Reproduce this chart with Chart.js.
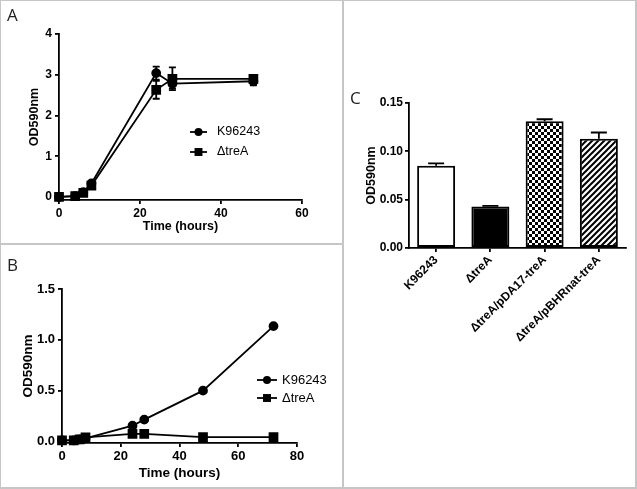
<!DOCTYPE html>
<html lang="en">
<head>
<meta charset="UTF-8">
<title>OD590 growth curves and biofilm</title>
<script src="https://cdn.jsdelivr.net/npm/chart.js"></script>
<style>
  html, body { margin: 0; padding: 0; background: #fff; }
  #fig { position: relative; width: 637px; height: 489px; overflow: hidden; }
  .panel { position: absolute; }
  #pA { left: 0; top: 0; }
  #pB { left: 0; top: 243px; }
  #pC { left: 343px; top: 0; }
  .line { position: absolute; background: #c6c6c6; }
  .tag { position: absolute; font: 17px 'Open Sans', sans-serif; color: #222; line-height: 1; }
</style>
</head>
<body>
<div id="fig">
  <div class="panel" id="pA"><canvas id="chartA" width="343" height="243"></canvas></div>
  <div class="panel" id="pB"><canvas id="chartB" width="343" height="246"></canvas></div>
  <div class="panel" id="pC"><canvas id="chartC" width="294" height="489"></canvas></div>

  <div class="line" style="left:0;top:0;width:637px;height:1px"></div>
  <div class="line" style="left:0;top:0;width:1px;height:489px"></div>
  <div class="line" style="left:635px;top:0;width:2px;height:489px"></div>
  <div class="line" style="left:0;top:487px;width:637px;height:2px"></div>
  <div class="line" style="left:342px;top:0;width:2px;height:489px"></div>
  <div class="line" style="left:0;top:243px;width:342px;height:2px"></div>

  <div class="tag" style="left:7px;top:6px">A</div>
  <div class="tag" style="left:7px;top:256px">B</div>
  <div class="tag" style="left:350px;top:89px">C</div>
</div>

<script>
  // Panel A - growth, with error bars
  const timeA = [0, 4, 6, 8, 24, 28, 48];
  const wtA = [0, 0.02, 0.12, 0.33, 3.04, 2.78, 2.84];
  const wtErrA = [0, 0, 0.02, 0.04, 0.16, 0.12, 0.1];
  const treA = [0, 0.02, 0.1, 0.28, 2.63, 2.9, 2.9];
  const treErrA = [0, 0, 0.02, 0.04, 0.22, 0.28, 0.06];
  const xTicksA = [0, 20, 40, 60];
  const yTicksA = [0, 1, 2, 3, 4];

  // Panel B - growth
  const timeB = [0, 4, 6, 8, 24, 28, 48, 72];
  const wtB = [0.01, 0.01, 0.02, 0.03, 0.155, 0.215, 0.5, 1.135];
  const treB = [0.01, 0.01, 0.02, 0.04, 0.075, 0.075, 0.043, 0.043];
  const xTicksB = [0, 20, 40, 60, 80];
  const yTicksB = [0, 0.5, 1.0, 1.5];

  // Panel C - bars
  const strains = ['K96243', '\u0394treA', '\u0394treA/pDA17-treA', '\u0394treA/pBHRnat-treA'];
  const odC = [0.085, 0.043, 0.131, 0.113];
  const errC = [0.0025, 0.0005, 0.0022, 0.0065];
  const yTicksC = [0, 0.05, 0.10, 0.15];

  Chart.defaults.font.family = "'Liberation Sans', Arial, sans-serif";
  Chart.defaults.font.weight = 'bold';
  Chart.defaults.font.size = 12;
  Chart.defaults.color = '#000';

  function toPoints(xs, ys) {
    return xs.map((x, i) => ({ x: x, y: ys[i] }));
  }

  // error bars through the chart scales
  const errorBars = {
    id: 'errorBars',
    beforeDatasetsDraw(chart, args, opts) {
      const ctx = chart.ctx;
      const y = chart.scales.y;
      ctx.save();
      ctx.strokeStyle = '#000';
      ctx.lineWidth = opts.width || 1.5;
      chart.data.datasets.forEach((ds, i) => {
        if (!ds.errors) return;
        const meta = chart.getDatasetMeta(i);
        meta.data.forEach((el, j) => {
          const err = ds.errors[j];
          if (!err) return;
          const v = typeof ds.data[j] === 'object' ? ds.data[j].y : ds.data[j];
          const top = y.getPixelForValue(v + err);
          const bot = opts.upOnly ? y.getPixelForValue(v) : y.getPixelForValue(v - err);
          const c = opts.cap / 2;
          ctx.beginPath();
          ctx.moveTo(el.x, top); ctx.lineTo(el.x, bot);
          ctx.moveTo(el.x - c, top); ctx.lineTo(el.x + c, top);
          if (!opts.upOnly) { ctx.moveTo(el.x - c, bot); ctx.lineTo(el.x + c, bot); }
          ctx.stroke();
        });
      });
      ctx.restore();
    }
  };

  // small line+marker legend placed inside the panel
  const lineLegend = {
    id: 'lineLegend',
    afterDraw(chart, args, opts) {
      if (!opts.x) return;
      const ctx = chart.ctx;
      ctx.save();
      chart.data.datasets.forEach((ds, i) => {
        const yy = opts.y + i * opts.gap;
        const mx = opts.x + opts.len / 2;
        ctx.strokeStyle = '#000';
        ctx.fillStyle = '#000';
        ctx.lineWidth = 1.8;
        ctx.beginPath();
        ctx.moveTo(opts.x, yy); ctx.lineTo(opts.x + opts.len, yy);
        ctx.stroke();
        if (ds.pointStyle === 'rect') {
          const s = ds.pointRadius * Math.SQRT1_2;
          ctx.fillRect(mx - s, yy - s, 2 * s, 2 * s);
        } else {
          ctx.beginPath();
          ctx.arc(mx, yy, ds.pointRadius, 0, Math.PI * 2);
          ctx.fill();
        }
        ctx.font = opts.font;
        ctx.textBaseline = 'middle';
        ctx.fillText(ds.label, opts.textX, yy);
      });
      ctx.restore();
    }
  };

  function lineChart(id, times, wt, tre, wtErr, treErr, c) {
    const base = {
      showLine: true,
      borderColor: '#000',
      backgroundColor: '#000',
      borderWidth: 1.8,
      clip: false
    };
    return new Chart(document.getElementById(id), {
      type: 'scatter',
      data: {
        datasets: [
          Object.assign({ label: 'K96243', data: toPoints(times, wt), errors: wtErr,
            pointStyle: 'circle', pointRadius: 4 }, base),
          Object.assign({ label: '\u0394treA', data: toPoints(times, tre), errors: treErr,
            pointStyle: 'rect', pointRadius: 5.6 }, base)
        ]
      },
      options: {
        responsive: false,
        animation: false,
        layout: { padding: { left: 0, top: c.top, right: c.right, bottom: 0 } },
        plugins: {
          legend: { display: false },
          tooltip: { enabled: false },
          errorBars: { cap: 7, upOnly: false, width: 1.8 },
          lineLegend: c.legend
        },
        scales: {
          x: {
            type: 'linear', min: 0, max: c.xMax,
            afterFit: s => { s.height = c.xh; },
            afterBuildTicks: s => { s.ticks = c.xTicks.map(v => ({ value: v })); },
            border: { display: true, color: '#000', width: 1.8 },
            grid: { drawOnChartArea: false, drawTicks: true, tickLength: 4, color: '#000', lineWidth: 1.8 },
            ticks: { padding: 2, font: { size: c.fs }, callback: v => String(v) },
            title: { display: true, text: 'Time (hours)', font: { size: c.fs + 0.5 }, padding: { top: 0, bottom: c.xTitlePad } }
          },
          y: {
            min: c.yMin, max: c.yMax,
            afterFit: s => { s.width = c.yw; },
            afterBuildTicks: s => { s.ticks = c.yTicks.map(v => ({ value: v })); },
            border: { display: true, color: '#000', width: 1.8 },
            grid: { drawOnChartArea: false, drawTicks: true, tickLength: 4, color: '#000', lineWidth: 1.8 },
            ticks: { padding: 3, font: { size: c.fs }, callback: c.fmt },
            title: { display: true, text: 'OD590nm', font: { size: c.fs + 0.5 }, padding: { top: c.yTitlePad, bottom: 0 } }
          }
        }
      },
      plugins: [errorBars, lineLegend]
    });
  }

  lineChart('chartA', timeA, wtA, treA, wtErrA, treErrA, {
    top: 34, right: 41, xh: 43, yw: 59, xMax: 60, yMin: -0.075, yMax: 4,
    xTicks: xTicksA, yTicks: yTicksA, fmt: v => String(v), fs: 12,
    xTitlePad: 9, yTitlePad: 27,
    legend: { x: 190, len: 17, textX: 217, y: 132, gap: 20, font: "12.5px 'Liberation Sans', Arial, sans-serif" }
  });

  lineChart('chartB', timeB, wtB, treB, null, null, {
    top: 46, right: 46, xh: 46, yw: 62, xMax: 80, yMin: -0.015, yMax: 1.5,
    xTicks: xTicksB, yTicks: yTicksB, fmt: v => v.toFixed(1), fs: 13,
    xTitlePad: 8, yTitlePad: 20,
    legend: { x: 257, len: 20, textX: 282, y: 137, gap: 18, font: "13px 'Liberation Sans', Arial, sans-serif" }
  });

  // fill patterns for panel C
  function checkerPattern(ctx) {
    const t = document.createElement('canvas');
    t.width = 6; t.height = 6;
    const g = t.getContext('2d');
    g.fillStyle = '#fff'; g.fillRect(0, 0, 6, 6);
    g.fillStyle = '#000'; g.fillRect(0, 0, 3, 3); g.fillRect(3, 3, 3, 3);
    return ctx.createPattern(t, 'repeat');
  }
  function stripePattern(ctx) {
    const n = 6;
    const t = document.createElement('canvas');
    t.width = n; t.height = n;
    const g = t.getContext('2d');
    g.fillStyle = '#fff'; g.fillRect(0, 0, n, n);
    g.strokeStyle = '#000'; g.lineWidth = 2;
    g.beginPath();
    g.moveTo(0, n); g.lineTo(n, 0);
    g.moveTo(-1, 1); g.lineTo(1, -1);
    g.moveTo(n - 1, n + 1); g.lineTo(n + 1, n - 1);
    g.stroke();
    return ctx.createPattern(t, 'repeat');
  }

  const ctxC = document.getElementById('chartC').getContext('2d');
  const fillsC = ['#fff', '#000', checkerPattern(ctxC), stripePattern(ctxC)];

  new Chart(ctxC, {
    type: 'bar',
    data: {
      labels: strains,
      datasets: [{
        data: odC,
        errors: errC,
        backgroundColor: fillsC,
        borderColor: '#000',
        borderWidth: 2,
        borderSkipped: false,
        barPercentage: 0.7,
        categoryPercentage: 1
      }]
    },
    options: {
      responsive: false,
      animation: false,
      layout: { padding: { left: 0, top: 103, right: 11, bottom: 0 } },
      plugins: {
        legend: { display: false },
        tooltip: { enabled: false },
        errorBars: { cap: 16, upOnly: true, width: 1.8 }
      },
      scales: {
        x: {
          afterFit: s => { s.height = 241; },
          border: { display: true, color: '#000', width: 1.8 },
          grid: { offset: false, drawOnChartArea: false, drawTicks: true, tickLength: 4, color: '#000', lineWidth: 1.8 },
          ticks: { minRotation: 45, maxRotation: 45, padding: 1, font: { size: 12 } }
        },
        y: {
          min: 0, max: 0.15,
          afterFit: s => { s.width = 66; },
          afterBuildTicks: s => { s.ticks = yTicksC.map(v => ({ value: v })); },
          border: { display: true, color: '#000', width: 1.8 },
          grid: { drawOnChartArea: false, drawTicks: true, tickLength: 4, color: '#000', lineWidth: 1.8 },
          ticks: { padding: 2, font: { size: 12 }, callback: v => v.toFixed(2) },
          title: { display: true, text: 'OD590nm', font: { size: 12.5 }, padding: { top: 21, bottom: 0 } }
        }
      }
    },
    plugins: [errorBars]
  });
</script>
</body>
</html>
